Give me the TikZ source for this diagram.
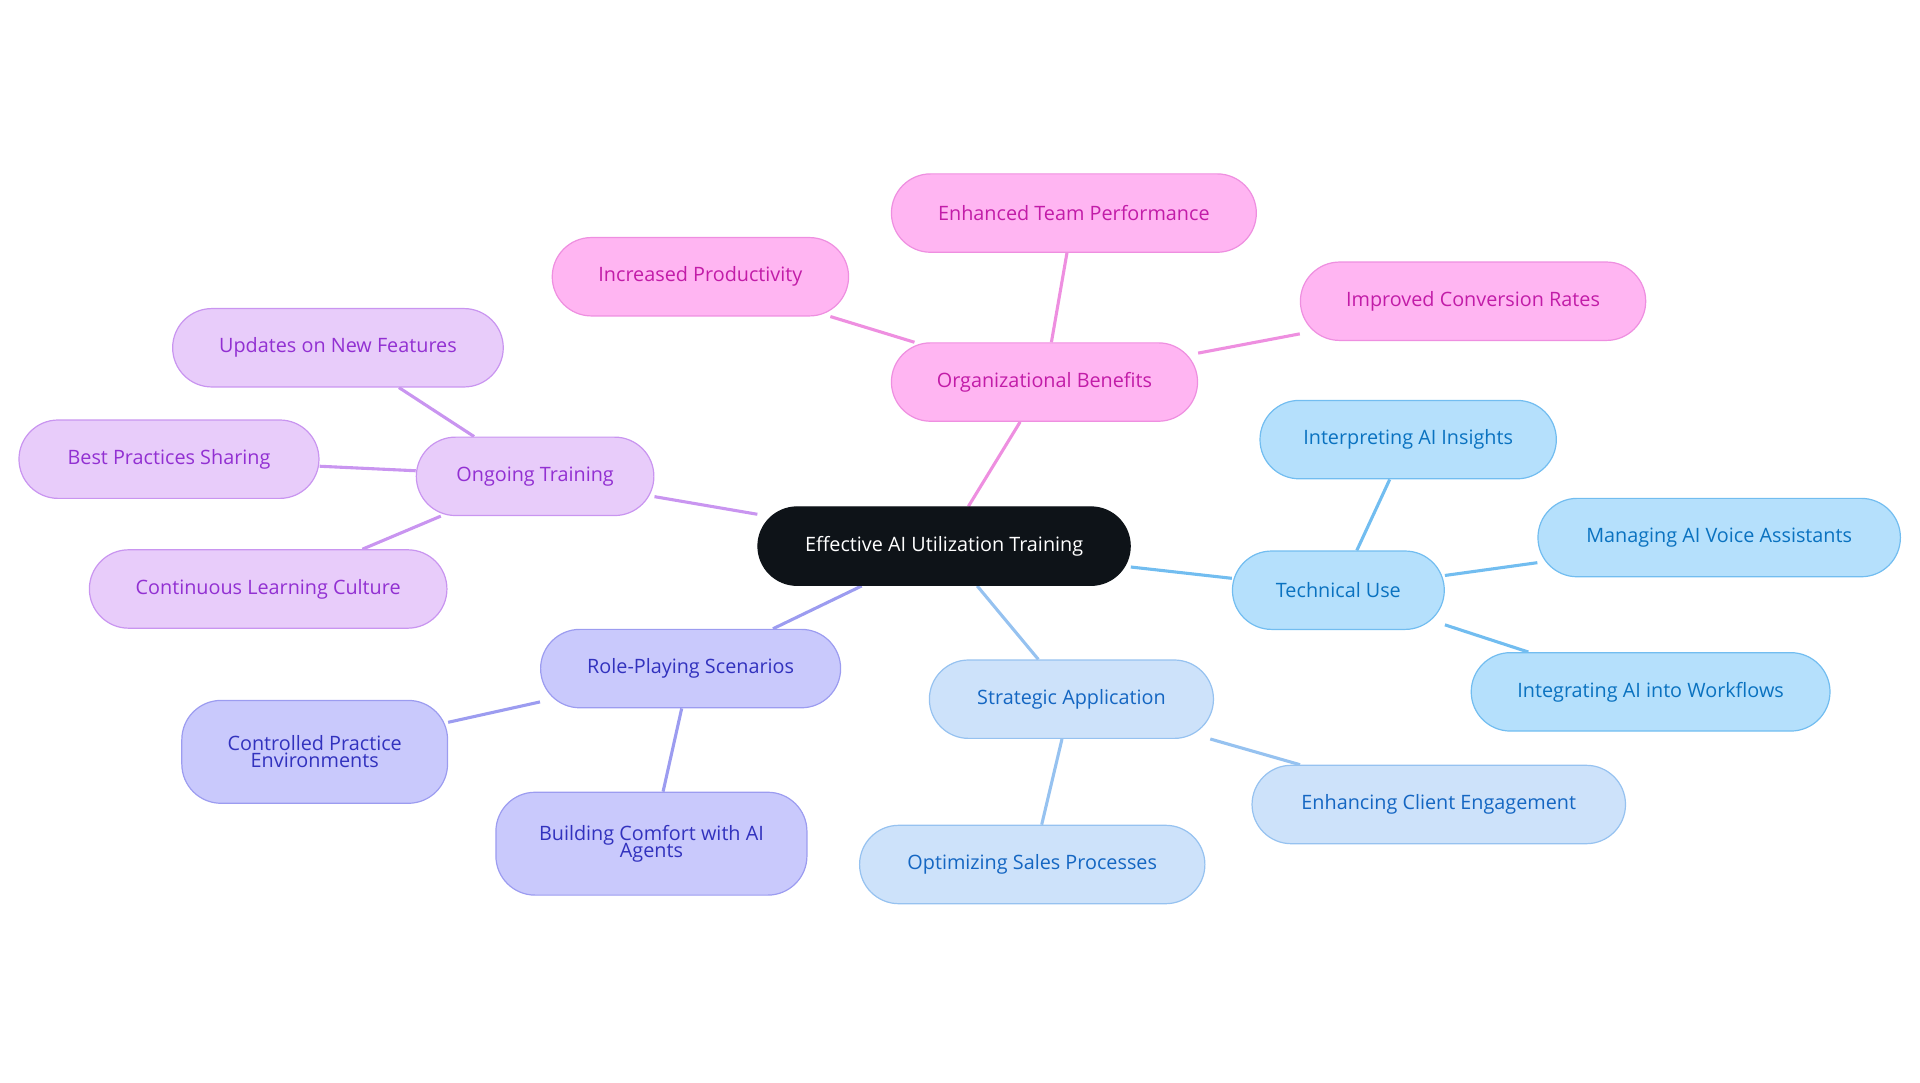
\documentclass[tikz,border=0pt]{standalone}
\usepackage{fontspec}
\setmainfont{Open Sans}
\usetikzlibrary{backgrounds}
\definecolor{pkF}{HTML}{FFB5F2}\definecolor{pkD}{HTML}{EE8FE0}\definecolor{pkT}{HTML}{C21CA8}
\definecolor{vlF}{HTML}{E8CCFA}\definecolor{vlD}{HTML}{C995F0}\definecolor{vlT}{HTML}{9230D2}
\definecolor{inF}{HTML}{C9C9FC}\definecolor{inD}{HTML}{9C9CF0}\definecolor{inT}{HTML}{3232BE}
\definecolor{lbF}{HTML}{CDE2FA}\definecolor{lbD}{HTML}{96C2F0}\definecolor{lbT}{HTML}{1466C2}
\definecolor{skF}{HTML}{B5E0FC}\definecolor{skD}{HTML}{72BDF0}\definecolor{skT}{HTML}{0A72C0}
\definecolor{ctr}{HTML}{0E1318}
\tikzset{
 box/.style={rounded corners=0.8cm,minimum height=1.6cm,line width=0.7pt,align=center,font=\fontsize{11.5}{13}\selectfont,inner sep=2pt},
 pk/.style={box,fill=pkF,draw=pkD,text=pkT},
 vl/.style={box,fill=vlF,draw=vlD,text=vlT},
 ind/.style={box,fill=inF,draw=inD,text=inT},
 lb/.style={box,fill=lbF,draw=lbD,text=lbT},
 sk/.style={box,fill=skF,draw=skD,text=skT},
 ed/.style={line width=1.8pt},
}
\begin{document}
\begin{tikzpicture}[x=0.025cm,y=-0.025cm]
\useasboundingbox (0,0) rectangle (1568,884);
\node[box,fill=ctr,draw=ctr,text=white,minimum width=304*0.025cm] (c) at (771,446) {Effective AI Utilization Training};
\node[pk,minimum width=250*0.025cm] (ob) at (853,312) {Organizational Benefits};
\node[pk,minimum width=242*0.025cm] (ip) at (572,226) {Increased Productivity};
\node[pk,minimum width=298*0.025cm] (et) at (877,174) {Enhanced Team Performance};
\node[pk,minimum width=282*0.025cm] (ic) at (1203,246) {Improved Conversion Rates};
\node[vl,minimum width=194*0.025cm] (ot) at (437,389) {Ongoing Training};
\node[vl,minimum width=270*0.025cm] (un) at (276,284) {Updates on New Features};
\node[vl,minimum width=245*0.025cm] (bp) at (138,375) {Best Practices Sharing};
\node[vl,minimum width=292*0.025cm] (cl) at (219,481) {Continuous Learning Culture};
\node[ind,minimum width=245*0.025cm] (rp) at (564,546) {Role-Playing Scenarios};
\node[ind,minimum width=217*0.025cm,minimum height=84*0.025cm] (cp) at (257,614) {Controlled Practice\\[-3pt]Environments};
\node[ind,minimum width=254*0.025cm,minimum height=84*0.025cm] (bc) at (532,689) {Building Comfort with AI\\[-3pt]Agents};
\node[lb,minimum width=232*0.025cm] (sa) at (875,571) {Strategic Application};
\node[lb,minimum width=282*0.025cm] (os) at (843,706) {Optimizing Sales Processes};
\node[lb,minimum width=305*0.025cm] (ec) at (1175,657) {Enhancing Client Engagement};
\node[sk,minimum width=173*0.025cm] (tu) at (1093,482) {Technical Use};
\node[sk,minimum width=242*0.025cm] (ia) at (1150,359) {Interpreting AI Insights};
\node[sk,minimum width=296*0.025cm] (ma) at (1404,439) {Managing AI Voice Assistants};
\node[sk,minimum width=293*0.025cm] (iw) at (1348,565) {Integrating AI into Workflows};
\begin{scope}[on background layer]
\draw[ed,pkD] (c)--(ob) (ob)--(ip) (ob)--(et) (ob)--(ic);
\draw[ed,vlD] (c)--(ot) (ot)--(un) (ot)--(bp) (ot)--(cl);
\draw[ed,inD] (c)--(rp) (rp)--(cp) (rp)--(bc);
\draw[ed,lbD] (c)--(sa) (sa)--(os) (sa)--(ec);
\draw[ed,skD] (c)--(tu) (tu)--(ia) (tu)--(ma) (tu)--(iw);
\end{scope}
\end{tikzpicture}
\end{document}
